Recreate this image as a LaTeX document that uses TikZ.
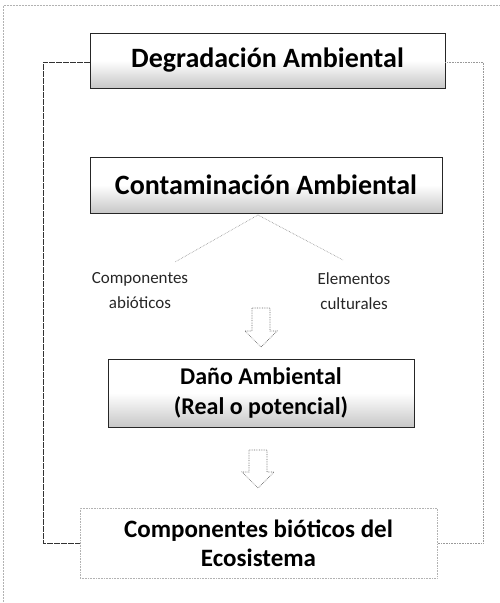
\documentclass[tikz,border=0pt]{standalone}
\usepackage{fontspec}
\setmainfont{Carlito}
\usetikzlibrary{positioning}
\begin{document}
\begin{tikzpicture}[x=1pt,y=-1pt,
  titlebox/.style={draw=black!85, line width=0.9pt, top color=white, bottom color=black!22, middle color=white, shading angle=0, inner sep=0pt, font=\fontsize{28}{32}\selectfont\bfseries},
  plainbox/.style={draw=black!30, densely dotted, line width=0.6pt, fill=white, inner sep=0pt, align=center, font=\fontsize{25}{29}\selectfont\bfseries},
  lbl/.style={align=center, font=\fontsize{17}{25}\selectfont, text=black!85},
  branch/.style={black!45, densely dotted, line width=0.6pt},
  bracketL/.style={black!80, dashed, dash pattern=on 6pt off 1pt, line width=0.7pt},
  bracketR/.style={black!40, densely dotted, line width=0.6pt},
  blockarrow/.style={draw=black!60, densely dotted, line width=0.7pt, fill=white}]
\useasboundingbox (0,0) rectangle (500,603);
% faint page frame
\draw[black!30, densely dotted, line width=0.5pt] (3,603) -- (3,5) -- (500,5);
% boxes
\node[titlebox, minimum width=355pt, minimum height=55pt] (deg) at (267.5,60.5) {Degradación Ambiental};
\node[titlebox, minimum width=352pt, minimum height=56pt] (con) at (266,185) {Contaminación Ambiental};
\node[lbl] (abio) at (140,291) {Componentes\\abióticos};
\node[lbl] (cult) at (354,291) {Elementos\\culturales};
\node[titlebox, minimum width=306pt, minimum height=68pt, align=center, font=\fontsize{24}{30}\selectfont\bfseries] (dano) at (261,393) {Daño Ambiental\\(Real o potencial)};
\node[plainbox, minimum width=357pt, minimum height=70pt] (bio) at (258.5,543) {Componentes bióticos del\\Ecosistema};
% branches
\coordinate (split) at (258,215);
\draw[branch] (split) -- (175,262);
\draw[branch] (split) -- (343,260);
% block arrows
\coordinate (a1) at (261,308);
\draw[blockarrow] (a1) ++(-9,0) -- ++(18,0) -- ++(0,23) -- ++(7,0) -- ++(-16,16) -- ++(-16,-16) -- ++(7,0) -- cycle;
\coordinate (a2) at (258,450);
\draw[blockarrow] (a2) ++(-9,0) -- ++(18,0) -- ++(0,22) -- ++(7,0) -- ++(-16,16) -- ++(-16,-16) -- ++(7,0) -- cycle;
% bracket
\coordinate (tl) at (43,62);
\coordinate (bl) at (43,543);
\coordinate (tr) at (483,62);
\coordinate (br) at (483,543);
\draw[bracketL] (deg.west |- tl) -- (tl) -- (bl) -- (bio.west |- bl);
\draw[bracketR] (deg.east |- tr) -- (tr) -- (br) -- (bio.east |- br);
\end{tikzpicture}
\end{document}
